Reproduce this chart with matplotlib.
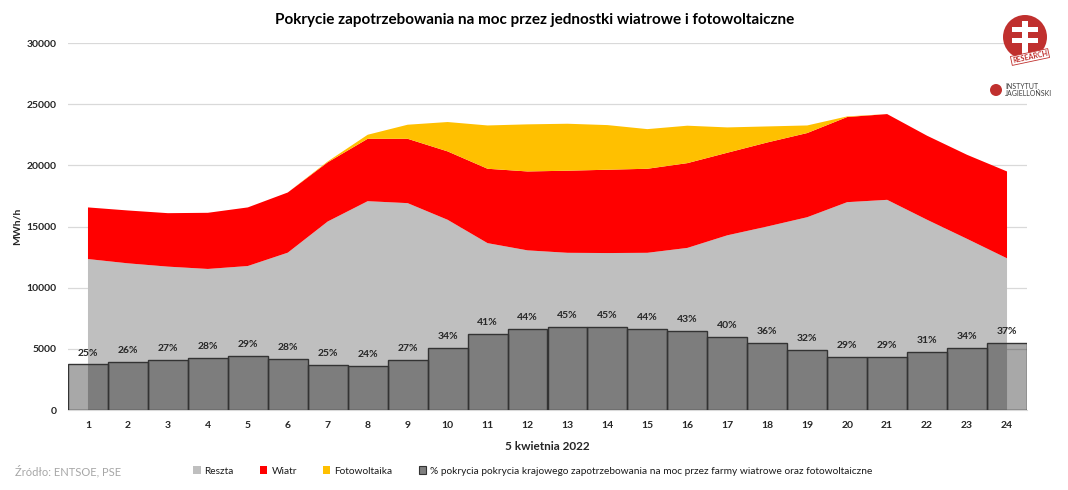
import matplotlib
matplotlib.use("Agg")
import matplotlib.pyplot as plt
from matplotlib.patches import Patch, Circle, Rectangle
import numpy as np

plt.rcParams['font.family'] = ['Lato', 'DejaVu Sans']

hours = list(range(1, 25))
hour_labels = [str(h) for h in hours]
reszta = [12340, 11990, 11720, 11530, 11770, 12860, 15410, 17070, 16910, 15550, 13640, 13050,
          12850, 12830, 12850, 13250, 14280, 15000, 15760, 16990, 17180, 15550, 13990, 12400]
wiatr = [4220, 4320, 4370, 4590, 4790, 4920, 4840, 5100, 5260, 5590, 6080, 6450,
         6710, 6810, 6870, 6930, 6750, 6870, 6880, 6960, 7010, 6870, 6870, 7100]
foto = [0, 0, 0, 0, 0, 0, 70, 330, 1150, 2400, 3540, 3850,
        3840, 3650, 3240, 3060, 2070, 1310, 620, 50, 0, 0, 0, 0]
pokrycie = [0.248, 0.260, 0.271, 0.282, 0.292, 0.276, 0.247, 0.242, 0.271, 0.340, 0.412, 0.443,
            0.451, 0.451, 0.441, 0.432, 0.397, 0.363, 0.325, 0.291, 0.291, 0.314, 0.340, 0.366]

series_names = ["Reszta", "Wiatr", "Fotowoltaika",
                "% pokrycia pokrycia krajowego zapotrzebowania na moc przez farmy wiatrowe oraz fotowoltaiczne"]
colors = ["#bfbfbf", "#ff0000", "#ffc000"]

fig = plt.figure(figsize=(10.68, 4.90), dpi=100)
ax = fig.add_axes([68/1068, 80/490, 959/1068, 367/490])

ax.stackplot(hours, reszta, wiatr, foto, colors=colors, linewidth=0, zorder=2)
ax.set_xlim(0.5, 24.5)
ax.set_ylim(0, 30000)
ax.set_yticks(range(0, 30001, 5000))
ax.grid(axis='y', color='#d9d9d9', linewidth=0.9, zorder=0)
ax.set_axisbelow(True)
for s in ['left', 'right', 'top']:
    ax.spines[s].set_visible(False)
ax.spines['bottom'].set_color('#d9d9d9')
ax.tick_params(axis='both', length=0, labelsize=7.5, colors='#262626', pad=8)
ax.set_xticks(hours)
ax.set_xticklabels(hour_labels, fontweight='bold')
for t in ax.get_yticklabels():
    t.set_fontweight('bold')
ax.set_ylabel("MWh/h", fontsize=7.5, fontweight='bold', color='#262626', labelpad=4)
ax.set_xlabel("5 kwietnia 2022", fontsize=8.5, fontweight='bold', color='#262626', labelpad=8)

ax2 = ax.twinx()
ax2.set_ylim(0, 2)
ax2.set_xlim(0.5, 24.5)
bars = ax2.bar(hours, pokrycie, width=1.0, color=(0, 0, 0, 0.34), edgecolor='#333333', linewidth=1.0, zorder=3)
for h, p in zip(hours, pokrycie):
    ax2.annotate(f"{round(p*100)}%", (h, p), xytext=(0, 5), textcoords='offset points',
                 ha='center', va='bottom', fontsize=7.5, fontweight='bold', color='#262626')
ax2.axis('off')

fig.text(535/1068, 1 - 20/490, "Pokrycie zapotrzebowania na moc przez jednostki wiatrowe i fotowoltaiczne",
         ha='center', va='center', fontsize=11, fontweight='bold', color='#000000')

handles = [Patch(facecolor=colors[0], edgecolor='none'),
           Patch(facecolor=colors[1], edgecolor='none'),
           Patch(facecolor=colors[2], edgecolor='none'),
           Patch(facecolor='#7f7f7f', edgecolor='#333333', linewidth=0.8)]
leg = fig.legend(handles, series_names, loc='center', bbox_to_anchor=(533/1068, 1 - 471/490),
                 ncol=4, frameon=False, fontsize=7.3, handlelength=0.7, handleheight=0.7,
                 handletextpad=0.4, columnspacing=2.6)
for t in leg.get_texts():
    t.set_color('#1a1a1a')

fig.text(15/1068, 1 - 471/490, "Źródło: ENTSOE, PSE", ha='left', va='center', fontsize=8, color='#a6a6a6')

# logo
circ = Circle((1025, 490 - 37), 22, transform=None, facecolor='#c0302e', edgecolor='none')
fig.patches.append(circ)
fig.patches.append(Rectangle((1022, 490 - 55), 6, 34, transform=None, facecolor='white'))
fig.patches.append(Rectangle((1012, 490 - 32), 26, 5, transform=None, facecolor='white'))
fig.patches.append(Rectangle((1012, 490 - 43), 26, 5, transform=None, facecolor='white'))
fig.text(1030/1068, 1 - 57/490, "RESEARCH", ha='center', va='center', fontsize=5, color='#c0302e',
         fontweight='bold', rotation=12,
         bbox=dict(boxstyle='square,pad=0.15', facecolor='white', edgecolor='#c0302e', linewidth=0.6))
fig.patches.append(Circle((996, 490 - 90), 6, transform=None, facecolor='#c0302e', edgecolor='none'))
fig.text(1005/1068, 1 - 90/490, "INSTYTUT\nJAGIELLOŃSKI", ha='left', va='center', fontsize=5,
         color='#404040', linespacing=0.95)

fig.savefig("out.png", dpi=100)
